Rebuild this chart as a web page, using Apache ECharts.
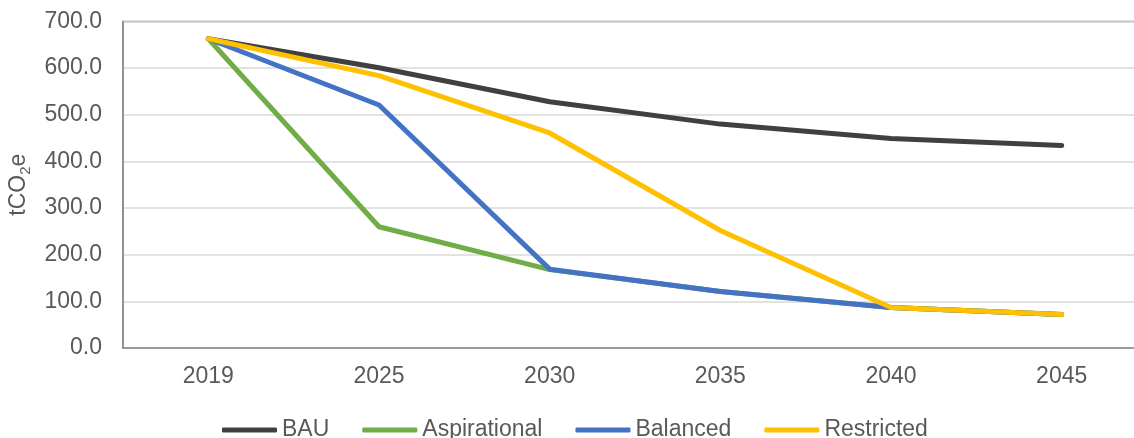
<!DOCTYPE html>
<html>
<head>
<meta charset="utf-8">
<script src="https://cdn.jsdelivr.net/npm/echarts@6/dist/echarts.min.js"></script>
<style>
  html, body { margin: 0; padding: 0; background: #fff; }
  #chart { width: 1134px; height: 438px; }
</style>
</head>
<body>
<div id="chart"></div>
<script>
const years = ['2019', '2025', '2030', '2035', '2040', '2045']
const bau = [663, 601, 528, 480, 449, 434]
const aspirational = [663, 260, 168, 121, 87, 72]
const balanced = [663, 521, 169, 121, 87, 72]
const restricted = [663, 584, 461, 252, 87, 72]

const FONT = '"Liberation Sans", Arial, sans-serif'
const TEXT = '#595959'
const AXIS = '#898989'

const line = (name, data, color) => ({
  name,
  type: 'line',
  data,
  showSymbol: false,
  symbol: 'none',
  animation: false,
  lineStyle: { width: 5, color, cap: 'round', join: 'round' },
  itemStyle: { color },
})

const chart = echarts.init(document.getElementById('chart'))
chart.setOption({
  backgroundColor: '#fff',
  textStyle: { fontFamily: FONT, color: TEXT },
  grid: {
    left: 123, top: 21.5, width: 1024, height: 326.5,
    show: true, borderColor: AXIS, borderWidth: 1.5,
    containLabel: false, outerBoundsMode: 'none',
  },
  legend: {
    left: 217, top: 412,
    icon: 'roundRect',
    itemWidth: 55, itemHeight: 5, itemGap: 33,
    textStyle: { fontSize: 23, color: TEXT, fontFamily: FONT, lineHeight: 26 },
  },
  xAxis: {
    type: 'category',
    data: years,
    boundaryGap: true,
    axisLine: { lineStyle: { color: AXIS, width: 1.5 } },
    axisTick: { show: false },
    axisLabel: { fontSize: 23, color: TEXT, fontFamily: FONT, margin: 17 },
  },
  yAxis: {
    type: 'value',
    min: 0, max: 700, interval: 100,
    name: '{a|tCO}{b|2}{a|e}',
    nameLocation: 'middle',
    nameRotate: 90,
    nameGap: 82,
    nameTextStyle: {
      rich: {
        a: { fontSize: 23, color: TEXT, fontFamily: FONT, lineHeight: 30, verticalAlign: 'middle' },
        b: { fontSize: 15, color: TEXT, fontFamily: FONT, lineHeight: 30, verticalAlign: 'bottom' },
      },
    },
    axisLine: { show: true, lineStyle: { color: AXIS, width: 1.5 } },
    axisTick: { show: false },
    axisLabel: {
      fontSize: 23, color: TEXT, fontFamily: FONT, margin: 21,
      formatter: v => v.toFixed(1),
    },
    splitLine: { lineStyle: { color: '#d9d9d9', width: 1.5 } },
  },
  series: [
    line('BAU', bau, '#404040'),
    line('Aspirational', aspirational, '#70ad47'),
    line('Balanced', balanced, '#4472c4'),
    line('Restricted', restricted, '#ffc000'),
  ],
})
</script>
</body>
</html>
